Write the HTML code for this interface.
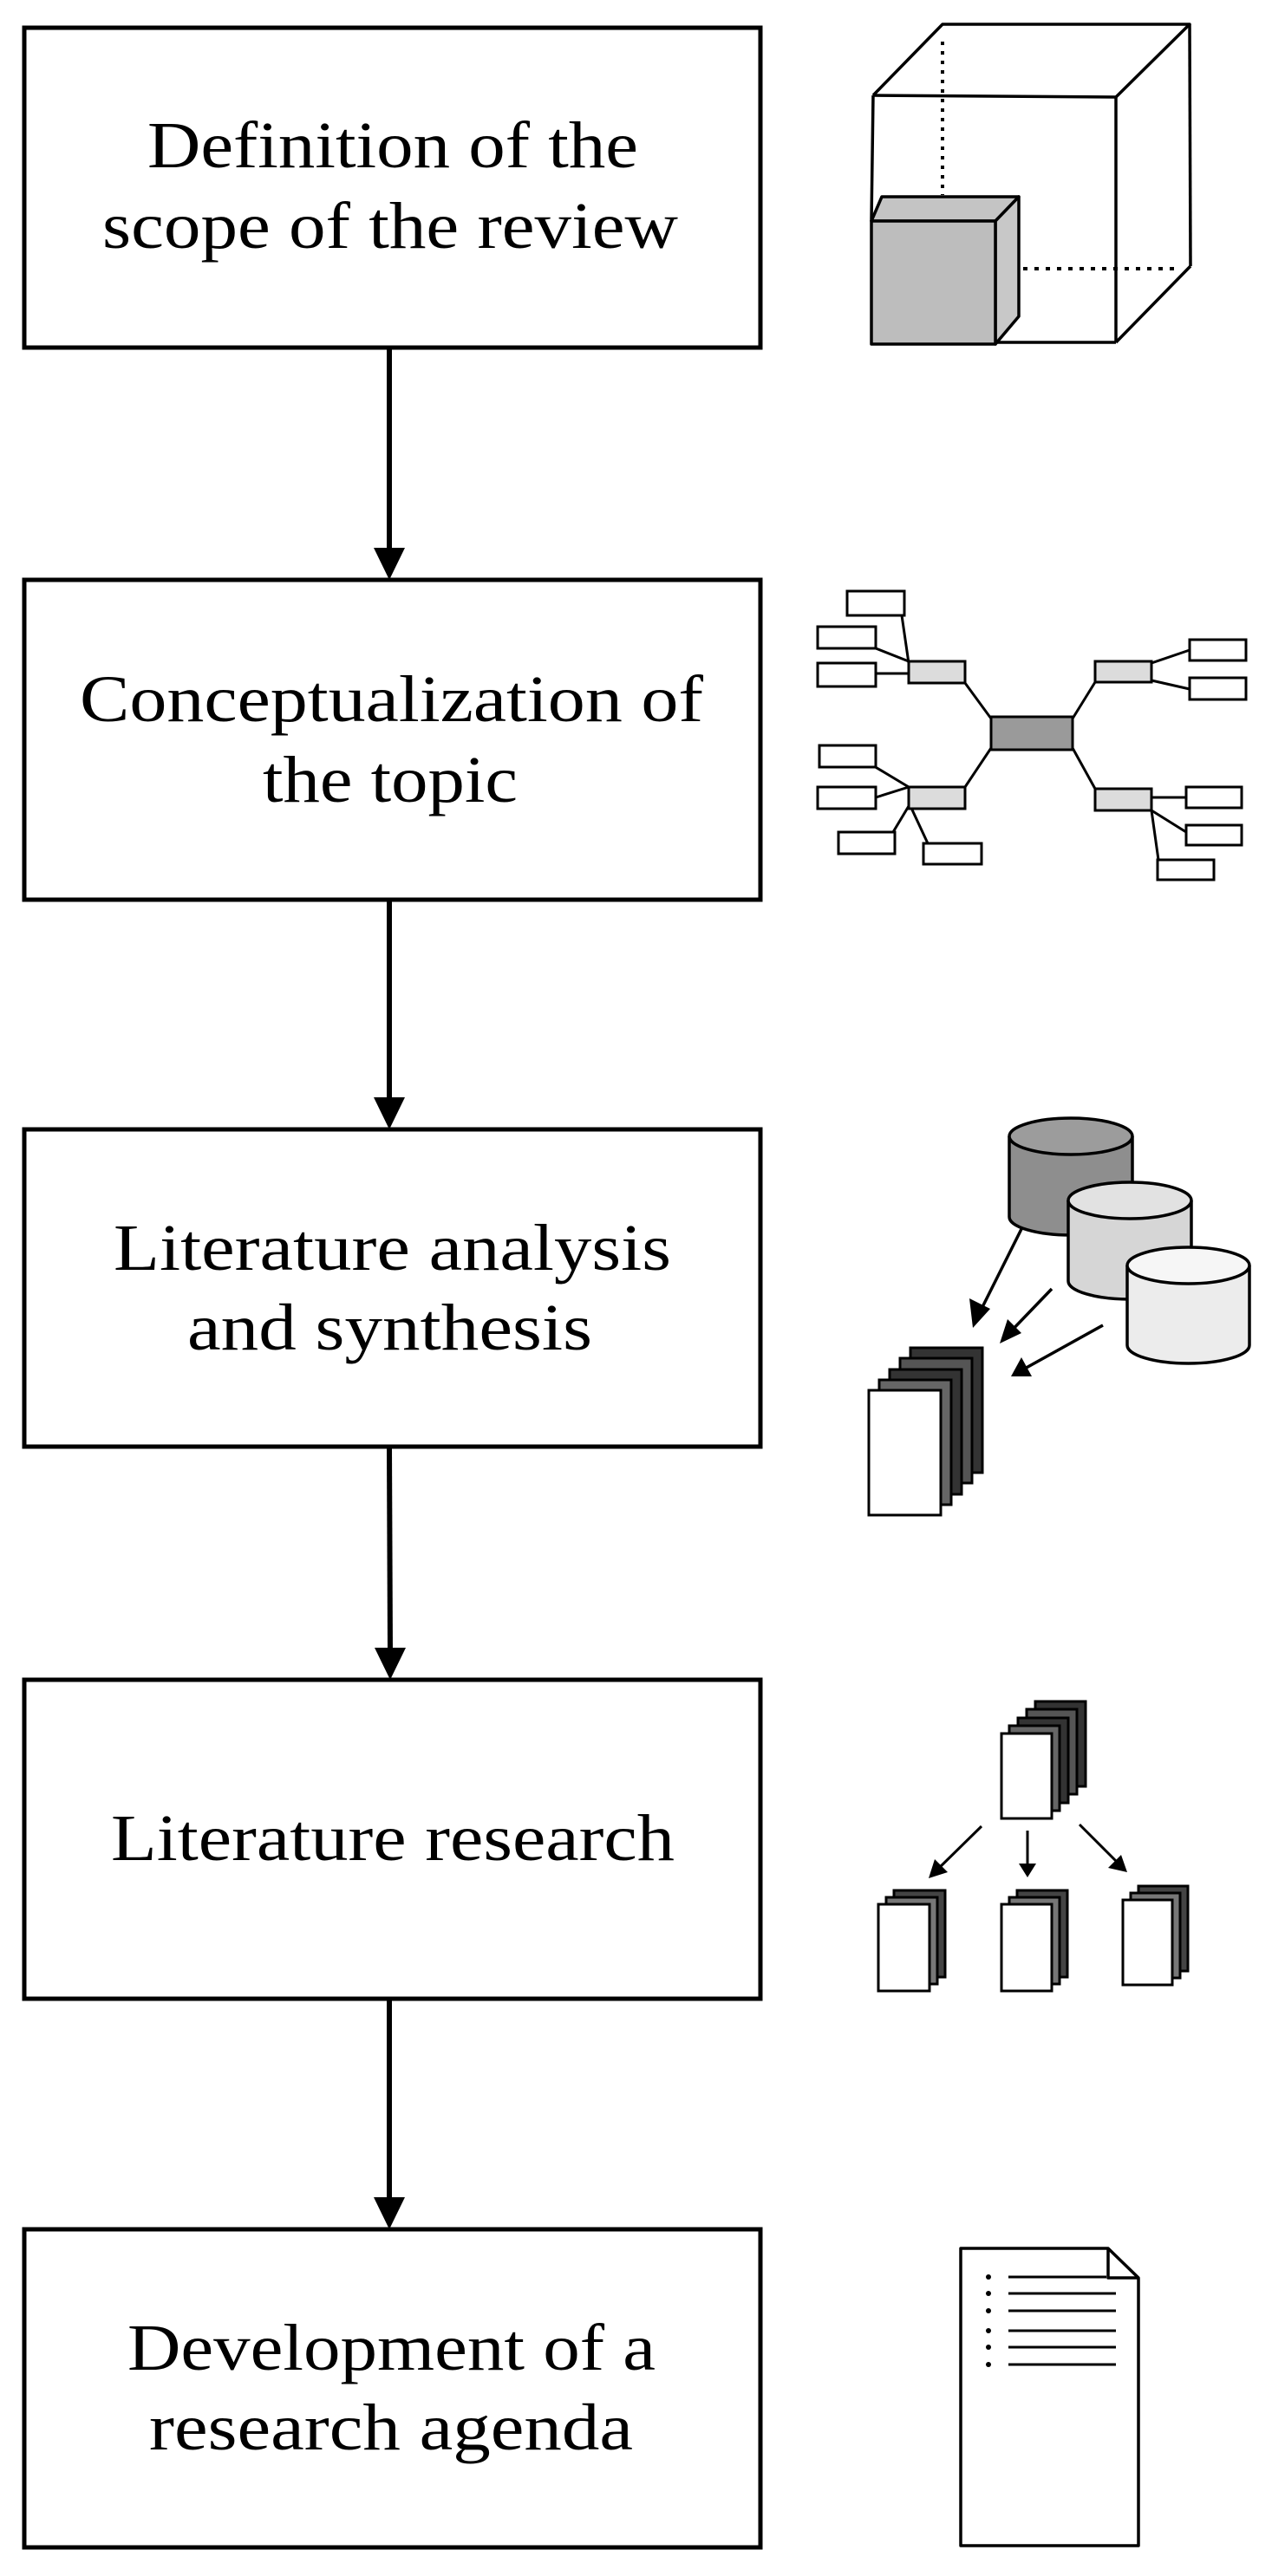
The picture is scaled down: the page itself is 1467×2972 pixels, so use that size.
<!DOCTYPE html>
<html><head><meta charset="utf-8"><style>
html,body{margin:0;padding:0;background:#fff;}
svg{display:block;}
text{font-family:"Liberation Serif",serif;font-size:76px;fill:#000;}
</style></head><body>
<svg width="1467" height="2972" viewBox="0 0 1467 2972" xmlns="http://www.w3.org/2000/svg">
<g fill="#fff" stroke="#000" stroke-width="5">
<rect x="28" y="32" width="849" height="369"/>
<rect x="28" y="669" width="849" height="369"/>
<rect x="28" y="1303" width="849" height="366"/>
<rect x="28" y="1938" width="849" height="368"/>
<rect x="28" y="2572" width="849" height="367"/>
</g>
<g stroke="#000" stroke-width="6">
<line x1="449" y1="401" x2="449" y2="635"/>
<line x1="449" y1="1038" x2="449" y2="1270"/>
<line x1="449" y1="1669" x2="450" y2="1905"/>
<line x1="449" y1="2306" x2="449" y2="2540"/>
</g>
<g fill="#000">
<polygon points="431,632 467,632 449,669"/>
<polygon points="431,1266 467,1266 449,1303"/>
<polygon points="432,1901 468,1901 450,1938"/>
<polygon points="431,2535 467,2535 449,2572"/>
</g>
<text x="170" y="193" textLength="566" lengthAdjust="spacingAndGlyphs">Definition of the</text>
<text x="118" y="286" textLength="664" lengthAdjust="spacingAndGlyphs">scope of the review</text>
<text x="92" y="832" textLength="719" lengthAdjust="spacingAndGlyphs">Conceptualization of</text>
<text x="303" y="925" textLength="294" lengthAdjust="spacingAndGlyphs">the topic</text>
<text x="131" y="1465" textLength="643" lengthAdjust="spacingAndGlyphs">Literature analysis</text>
<text x="216" y="1557" textLength="467" lengthAdjust="spacingAndGlyphs">and synthesis</text>
<text x="128" y="2146" textLength="650" lengthAdjust="spacingAndGlyphs">Literature research</text>
<text x="147" y="2734" textLength="609" lengthAdjust="spacingAndGlyphs">Development of a</text>
<text x="172" y="2826" textLength="558" lengthAdjust="spacingAndGlyphs">research agenda</text>

<!-- cube -->
<g stroke="#000" stroke-width="3.5" fill="none" stroke-linejoin="round">
<polyline points="1007,110 1087,28 1372,28 1287,112"/>
<line x1="1007" y1="110" x2="1287" y2="112"/>
<line x1="1372" y1="28" x2="1373" y2="307"/>
<line x1="1287" y1="112" x2="1287" y2="395"/>
<line x1="1373" y1="307" x2="1287" y2="395"/>
<line x1="1007" y1="110" x2="1005" y2="255"/>
<line x1="1148" y1="395" x2="1287" y2="395"/>
<line x1="1087" y1="48" x2="1087" y2="225" stroke-dasharray="4,7" stroke-width="4"/>
<line x1="1180" y1="310" x2="1360" y2="310" stroke-dasharray="5,8" stroke-width="4"/>
<polygon points="1005,255 1017,227 1175,227 1148,255" fill="#c4c4c4"/>
<polygon points="1148,255 1175,227 1175,365 1148,397" fill="#c8c8c8"/>
<rect x="1005" y="255" width="143" height="142" fill="#bdbdbd"/>
</g>

<!-- mind map -->
<g stroke="#000" stroke-width="3" fill="none">
<line x1="1143" y1="829" x2="1113" y2="788"/>
<line x1="1237" y1="829" x2="1263" y2="787"/>
<line x1="1143" y1="863" x2="1113" y2="908"/>
<line x1="1237" y1="863" x2="1263" y2="910"/>
<line x1="1040" y1="710" x2="1048" y2="765"/>
<line x1="1010" y1="748" x2="1048" y2="763"/>
<line x1="1010" y1="777" x2="1048" y2="777"/>
<line x1="1372" y1="750" x2="1328" y2="765"/>
<line x1="1372" y1="795" x2="1328" y2="785"/>
<line x1="1008" y1="884" x2="1048" y2="908"/>
<line x1="1010" y1="920" x2="1048" y2="908"/>
<line x1="1030" y1="960" x2="1048" y2="930"/>
<line x1="1070" y1="973" x2="1050" y2="930"/>
<line x1="1368" y1="920" x2="1328" y2="920"/>
<line x1="1368" y1="960" x2="1328" y2="935"/>
<line x1="1336" y1="992" x2="1328" y2="935"/>
<rect x="1143" y="827" width="94" height="38" fill="#9a9a9a"/>
<rect x="1048" y="763" width="65" height="25" fill="#dcdcdc"/>
<rect x="1263" y="763" width="65" height="24" fill="#dcdcdc"/>
<rect x="1048" y="908" width="65" height="25" fill="#dcdcdc"/>
<rect x="1263" y="910" width="65" height="25" fill="#dcdcdc"/>
<g fill="#fff">
<rect x="977" y="682" width="66" height="28"/>
<rect x="943" y="723" width="67" height="25"/>
<rect x="943" y="765" width="67" height="27"/>
<rect x="1372" y="738" width="65" height="24"/>
<rect x="1372" y="782" width="65" height="25"/>
<rect x="945" y="860" width="65" height="25"/>
<rect x="943" y="908" width="67" height="25"/>
<rect x="967" y="960" width="65" height="25"/>
<rect x="1065" y="973" width="67" height="24"/>
<rect x="1368" y="908" width="64" height="24"/>
<rect x="1368" y="952" width="64" height="23"/>
<rect x="1335" y="992" width="65" height="23"/>
</g>
</g>

<!-- databases -->
<g stroke="#000" stroke-width="3.5">
<path d="M1164,1311 V1404 A71,21 0 0 0 1306,1404 V1311" fill="#8e8e8e"/>
<ellipse cx="1235" cy="1311" rx="71" ry="21" fill="#9c9c9c"/>
<path d="M1232,1385 V1478 A71,21 0 0 0 1374,1478 V1385" fill="#d6d6d6"/>
<ellipse cx="1303" cy="1385" rx="71" ry="21" fill="#e2e2e2"/>
<path d="M1300,1460 V1552 A70.5,21 0 0 0 1441,1552 V1460" fill="#ececec"/>
<ellipse cx="1370.5" cy="1460" rx="70.5" ry="21" fill="#f6f6f6"/>
<line x1="1178" y1="1418" x2="1130" y2="1514"/>
<line x1="1213" y1="1487" x2="1162" y2="1540"/>
<line x1="1272" y1="1529" x2="1180" y2="1580"/>
</g>
<g fill="#000">
<polygon points="1122,1532 1118,1498 1142,1510"/>
<polygon points="1153,1550 1162,1522 1178,1538"/>
<polygon points="1166,1588 1178,1566 1190,1588"/>
</g>
<g stroke="#000" stroke-width="3">
<rect x="1050" y="1555" width="83" height="144" fill="#333"/>
<rect x="1038" y="1567" width="83" height="144" fill="#555"/>
<rect x="1026" y="1580" width="83" height="144" fill="#333"/>
<rect x="1014" y="1592" width="83" height="144" fill="#666"/>
<rect x="1002" y="1604" width="83" height="144" fill="#fff"/>
</g>

<!-- split docs -->
<g stroke="#000" stroke-width="3">
<rect x="1194" y="1963" width="58" height="98" fill="#333"/>
<rect x="1184" y="1972" width="58" height="98" fill="#555"/>
<rect x="1174" y="1982" width="58" height="98" fill="#333"/>
<rect x="1164" y="1991" width="58" height="98" fill="#666"/>
<rect x="1155" y="2000" width="58" height="98" fill="#fff"/>
<rect x="1031" y="2181" width="59" height="100" fill="#444"/>
<rect x="1022" y="2189" width="59" height="100" fill="#777"/>
<rect x="1013" y="2197" width="59" height="100" fill="#fff"/>
<rect x="1173" y="2181" width="58" height="100" fill="#444"/>
<rect x="1164" y="2189" width="58" height="100" fill="#777"/>
<rect x="1155" y="2197" width="58" height="100" fill="#fff"/>
<rect x="1313" y="2176" width="57" height="98" fill="#444"/>
<rect x="1304" y="2184" width="57" height="98" fill="#777"/>
<rect x="1295" y="2192" width="57" height="98" fill="#fff"/>
<line x1="1132" y1="2107" x2="1080" y2="2158"/>
<line x1="1185" y1="2112" x2="1185" y2="2152"/>
<line x1="1245" y1="2105" x2="1292" y2="2152"/>
</g>
<g fill="#000">
<polygon points="1071,2167 1078,2145 1093,2160"/>
<polygon points="1175,2150 1195,2150 1185,2166"/>
<polygon points="1300,2160 1278,2155 1293,2140"/>
</g>

<!-- document -->
<g stroke="#000" stroke-width="3.5" fill="#fff" stroke-linejoin="round">
<path d="M1108,2594 H1278 L1313,2628 V2937 H1108 Z"/>
<path d="M1278,2594 V2628 H1313" fill="none"/>
</g>
<g stroke="#000" stroke-width="3">
<line x1="1163" y1="2627" x2="1276" y2="2627"/>
<line x1="1163" y1="2646" x2="1287" y2="2646"/>
<line x1="1163" y1="2666" x2="1287" y2="2666"/>
<line x1="1163" y1="2689" x2="1287" y2="2689"/>
<line x1="1163" y1="2708" x2="1287" y2="2708"/>
<line x1="1163" y1="2728" x2="1287" y2="2728"/>
</g>
<g fill="#000">
<circle cx="1140" cy="2627" r="3"/><circle cx="1140" cy="2646" r="3"/><circle cx="1140" cy="2666" r="3"/>
<circle cx="1140" cy="2689" r="3"/><circle cx="1140" cy="2708" r="3"/><circle cx="1140" cy="2728" r="3"/>
</g>
</svg>
</body></html>
